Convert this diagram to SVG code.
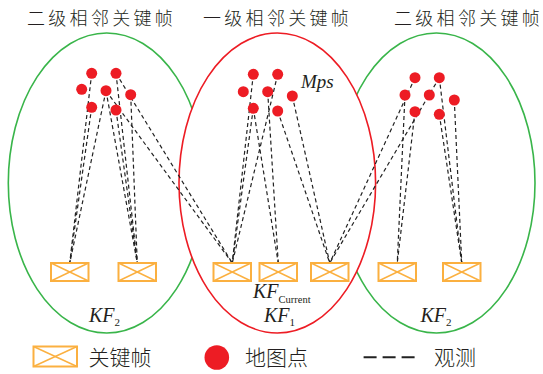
<svg xmlns="http://www.w3.org/2000/svg" xmlns:xlink="http://www.w3.org/1999/xlink" width="543" height="374" viewBox="0 0 543 374">
<style>
.title{font-family:"Noto Sans CJK SC","Noto Sans",sans-serif;font-size:18px;font-weight:300;letter-spacing:3.3px;fill:#231f20}
.leg{font-family:"Noto Sans CJK SC","Noto Sans",sans-serif;font-size:21px;font-weight:300;fill:#231f20}
.kf{font-family:"Liberation Serif",serif;font-style:italic;font-size:20px;fill:#231f20}
.sub{font-family:"Liberation Serif",serif;font-style:normal;font-size:11px;fill:#231f20}
.obs{stroke:#222;stroke-width:1.2;stroke-dasharray:4 3;fill:none}
.mp{fill:#ed1c24}
.box{fill:#fff;stroke:#fbb040;stroke-width:2}
.x{stroke:#fbb040;stroke-width:1.4}
.green{fill:none;stroke:#39b54a;stroke-width:1.6}
.red{fill:#fff;stroke:#ed1c24;stroke-width:1.6}
</style>
<defs>
<g id="kfbox">
<rect class="box" x="0" y="0" width="37.5" height="18"/>
<line class="x" x1="0" y1="0" x2="37.5" y2="18"/>
<line class="x" x1="0" y1="18" x2="37.5" y2="0"/>
</g>
</defs>
<rect width="543" height="374" fill="#fff"/>
<g id="titles">
<text class="title" x="27" y="25">二级相邻关键帧</text>
<text class="title" x="203" y="25">一级相邻关键帧</text>
<text class="title" x="394" y="25">二级相邻关键帧</text>
</g>
<g id="regions">
<ellipse id="region-left" class="green" cx="106.7" cy="183" rx="98.4" ry="150"/>
<ellipse id="region-right" class="green" cx="436.4" cy="183" rx="98.6" ry="150"/>
<ellipse id="region-mid" class="red" cx="277.3" cy="183" rx="98.3" ry="150"/>
</g>
<g id="connectors">
<line class="obs" x1="91.7" y1="73.3" x2="69.75" y2="263"/>
<line class="obs" x1="91.7" y1="107.3" x2="69.75" y2="263"/>
<line class="obs" x1="106" y1="90.7" x2="69.75" y2="263"/>
<line class="obs" x1="106" y1="90.7" x2="137.25" y2="263"/>
<line class="obs" x1="116" y1="110" x2="137.25" y2="263"/>
<line class="obs" x1="116" y1="73.3" x2="137.25" y2="263"/>
<line class="obs" x1="130.7" y1="94.7" x2="137.25" y2="263"/>
<line class="obs" x1="106" y1="90.7" x2="232.25" y2="263"/>
<line class="obs" x1="116" y1="73.3" x2="232.25" y2="263"/>
<line class="obs" x1="253.3" y1="74.3" x2="232.25" y2="263"/>
<line class="obs" x1="277.7" y1="74.3" x2="232.25" y2="263"/>
<line class="obs" x1="253.3" y1="108.3" x2="232.25" y2="263"/>
<line class="obs" x1="253.3" y1="108.3" x2="278.25" y2="263"/>
<line class="obs" x1="267.7" y1="91.7" x2="278.25" y2="263"/>
<line class="obs" x1="277.7" y1="111" x2="329.75" y2="263"/>
<line class="obs" x1="292.3" y1="96" x2="329.75" y2="263"/>
<line class="obs" x1="415" y1="77.7" x2="329.75" y2="263"/>
<line class="obs" x1="439.3" y1="77.7" x2="329.75" y2="263"/>
<line class="obs" x1="405" y1="95" x2="397.25" y2="263"/>
<line class="obs" x1="415" y1="111.7" x2="397.25" y2="263"/>
<line class="obs" x1="439.3" y1="114.3" x2="461.75" y2="263"/>
<line class="obs" x1="439.3" y1="77.7" x2="461.75" y2="263"/>
<line class="obs" x1="454.3" y1="100" x2="461.75" y2="263"/>
</g>
<g id="mappoints-left">
<circle id="mp-l1" class="mp" cx="91.7" cy="73.3" r="5.5"/>
<circle id="mp-l2" class="mp" cx="116" cy="73.3" r="5.5"/>
<circle id="mp-l3" class="mp" cx="81.7" cy="89.3" r="5.5"/>
<circle id="mp-l4" class="mp" cx="106" cy="90.7" r="5.5"/>
<circle id="mp-l5" class="mp" cx="130.7" cy="94.7" r="5.5"/>
<circle id="mp-l6" class="mp" cx="91.7" cy="107.3" r="5.5"/>
<circle id="mp-l7" class="mp" cx="116" cy="110" r="5.5"/>
</g>
<g id="mappoints-mid">
<circle id="mp-m1" class="mp" cx="253.3" cy="74.3" r="5.5"/>
<circle id="mp-m2" class="mp" cx="277.7" cy="74.3" r="5.5"/>
<circle id="mp-m3" class="mp" cx="243.3" cy="91.7" r="5.5"/>
<circle id="mp-m4" class="mp" cx="267.7" cy="91.7" r="5.5"/>
<circle id="mp-m5" class="mp" cx="292.3" cy="96" r="5.5"/>
<circle id="mp-m6" class="mp" cx="253.3" cy="108.3" r="5.5"/>
<circle id="mp-m7" class="mp" cx="277.7" cy="111" r="5.5"/>
</g>
<g id="mappoints-right">
<circle id="mp-r1" class="mp" cx="415" cy="77.7" r="5.5"/>
<circle id="mp-r2" class="mp" cx="439.3" cy="77.7" r="5.5"/>
<circle id="mp-r3" class="mp" cx="405" cy="95" r="5.5"/>
<circle id="mp-r4" class="mp" cx="429.3" cy="95" r="5.5"/>
<circle id="mp-r5" class="mp" cx="454.3" cy="100" r="5.5"/>
<circle id="mp-r6" class="mp" cx="415" cy="111.7" r="5.5"/>
<circle id="mp-r7" class="mp" cx="439.3" cy="114.3" r="5.5"/>
</g>
<g id="mps-label"><text class="kf" x="301" y="88.3" style="font-size:19px">Mps</text></g>
<g id="kf-1"><use xlink:href="#kfbox" x="51" y="263"/></g>
<g id="kf-2"><use xlink:href="#kfbox" x="118.5" y="263"/></g>
<g id="kf-3"><use xlink:href="#kfbox" x="213.5" y="263"/></g>
<g id="kf-current"><use xlink:href="#kfbox" x="259.5" y="263"/></g>
<g id="kf-5"><use xlink:href="#kfbox" x="311" y="263"/></g>
<g id="kf-6"><use xlink:href="#kfbox" x="378.5" y="263"/></g>
<g id="kf-7"><use xlink:href="#kfbox" x="443" y="263"/></g>
<g id="labels">
<text class="kf" x="253" y="298.3">KF<tspan class="sub" style="font-size:10.5px" dy="4.3">Current</tspan></text>
<text class="kf" x="264" y="321.7">KF<tspan class="sub" dy="4.3">1</tspan></text>
<text class="kf" x="89" y="322">KF<tspan class="sub" dy="4.3">2</tspan></text>
<text class="kf" x="420.5" y="322">KF<tspan class="sub" dy="4.3">2</tspan></text>
</g>
<g id="legend">
<g id="legend-kf">
<rect class="box" x="33.5" y="346.5" width="43.5" height="20"/>
<line class="x" x1="33.5" y1="346.5" x2="77" y2="366.5"/>
<line class="x" x1="33.5" y1="366.5" x2="77" y2="346.5"/>
<text class="leg" x="88.5" y="365">关键帧</text>
</g>
<g id="legend-mp">
<circle class="mp" cx="216.8" cy="357.5" r="12.3"/>
<text class="leg" x="245" y="365">地图点</text>
</g>
<g id="legend-obs">
<line x1="363.6" y1="357.3" x2="415.5" y2="357.3" stroke="#222" stroke-width="2" stroke-dasharray="13 6"/>
<text class="leg" x="434" y="365">观测</text>
</g>
</g>
</svg>
